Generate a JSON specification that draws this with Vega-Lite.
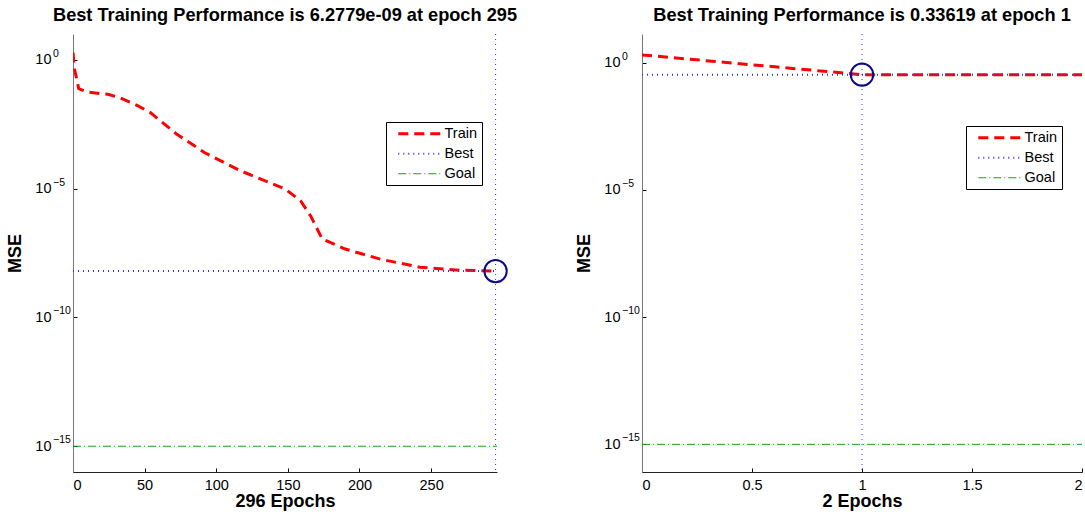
{
  "$schema": "https://vega.github.io/schema/vega-lite/v6.json",
  "background": "white",
  "padding": {"left": 6, "top": 6, "right": 0, "bottom": 0},
  "autosize": {"type": "pad"},
  "spacing": 145,
  "bounds": "flush",
  "config": {
    "font": "Liberation Sans",
    "view": {"stroke": null},
    "title": {"fontSize": 18.2, "fontWeight": "bold", "font": "Liberation Sans", "color": "black", "frame": "group", "anchor": "middle", "offset": 8},
    "axis": {
      "grid": false,
      "labelFont": "Liberation Sans",
      "labelFontSize": 14.5,
      "labelColor": "black",
      "titleFont": "Liberation Sans",
      "titleFontSize": 18,
      "titleFontWeight": "bold",
      "titleColor": "black",
      "tickColor": "black",
      "tickSize": -4,
      "labelPadding": 10
    },
    "axisX": {"domainColor": "#222", "titlePadding": 1, "labelAngle": 0},
    "axisY": {"domainColor": "#777", "titlePadding": 10, "labelPadding": 26},
    "text": {"font": "Liberation Sans"},
    "legend": {
      "orient": "none",
      "strokeColor": "black",
      "fillColor": "white",
      "padding": 4.5,
      "symbolType": "M-3.45,0H4.55",
      "symbolSize": 121,
      "symbolOffset": 19.5,
      "labelFont": "Liberation Sans",
      "labelFontSize": 14.5,
      "labelColor": "black",
      "labelOffset": 20,
      "rowPadding": 5
    }
  },
  "datasets": {
    "left": [
      {"series": "Train", "epoch": 0, "mse": 1.9},
      {"series": "Train", "epoch": 1, "mse": 0.45},
      {"series": "Train", "epoch": 4, "mse": 0.075},
      {"series": "Train", "epoch": 10, "mse": 0.056},
      {"series": "Train", "epoch": 19, "mse": 0.049},
      {"series": "Train", "epoch": 25, "mse": 0.045},
      {"series": "Train", "epoch": 33, "mse": 0.033},
      {"series": "Train", "epoch": 45, "mse": 0.0166},
      {"series": "Train", "epoch": 54, "mse": 0.0089},
      {"series": "Train", "epoch": 72, "mse": 0.00135},
      {"series": "Train", "epoch": 92, "mse": 0.000245},
      {"series": "Train", "epoch": 117, "mse": 0.000049},
      {"series": "Train", "epoch": 148, "mse": 0.0000098},
      {"series": "Train", "epoch": 159, "mse": 0.0000033},
      {"series": "Train", "epoch": 166, "mse": 0.00000085},
      {"series": "Train", "epoch": 174, "mse": 0.00000011},
      {"series": "Train", "epoch": 190, "mse": 0.000000045},
      {"series": "Train", "epoch": 215, "mse": 0.000000018},
      {"series": "Train", "epoch": 242, "mse": 0.0000000089},
      {"series": "Train", "epoch": 270, "mse": 0.0000000068},
      {"series": "Train", "epoch": 295, "mse": 0.0000000062779},
      {"series": "Best", "epoch": 0, "mse": 0.0000000062779},
      {"series": "Best", "epoch": 296, "mse": 0.0000000062779},
      {"series": "Goal", "epoch": 0, "mse": 1e-15},
      {"series": "Goal", "epoch": 296, "mse": 1e-15}
    ],
    "leftBest": [{"epoch": 295, "mse": 0.0000000062779}],
    "right": [
      {"series": "Train", "epoch": 0, "mse": 2.0},
      {"series": "Train", "epoch": 1, "mse": 0.33619},
      {"series": "Train", "epoch": 2, "mse": 0.33619},
      {"series": "Best", "epoch": 0, "mse": 0.33619},
      {"series": "Best", "epoch": 2, "mse": 0.33619},
      {"series": "Goal", "epoch": 0, "mse": 1e-15},
      {"series": "Goal", "epoch": 2, "mse": 1e-15}
    ],
    "rightBest": [{"epoch": 1, "mse": 0.33619}],
    "exps": [
      {"mse": 1, "exp": "0"},
      {"mse": 1e-5, "exp": "−5"},
      {"mse": 1e-10, "exp": "−10"},
      {"mse": 1e-15, "exp": "−15"}
    ]
  },
  "hconcat": [
    {
      "width": 424,
      "height": 438,
      "title": {"text": "Best Training Performance is 6.2779e-09 at epoch 295"},
      "layer": [
        {
          "data": {"name": "left"},
          "mark": {"type": "line", "clip": true},
          "encoding": {
            "x": {"field": "epoch", "type": "quantitative", "scale": {"domain": [0, 296], "nice": false, "zero": false}, "axis": {"title": "296 Epochs", "values": [0, 50, 100, 150, 200, 250]}},
            "y": {"field": "mse", "type": "quantitative", "scale": {"type": "log", "domain": [1e-16, 10], "nice": false}, "axis": {"title": "MSE", "values": [1e-15, 1e-10, 1e-5, 1], "labelExpr": "'10'"}},
            "color": {"field": "series", "type": "nominal", "scale": {"domain": ["Train", "Best", "Goal"], "range": ["#ff0000", "#3333ff", "#11a611"]}, "legend": {"title": null, "legendX": 313, "legendY": 88}},
            "strokeDash": {"field": "series", "type": "nominal", "scale": {"domain": ["Train", "Best", "Goal"], "range": [[10, 6], [1, 4], [8, 3, 1, 3]]}, "legend": {"title": null, "legendX": 313, "legendY": 88}},
            "strokeWidth": {"field": "series", "type": "nominal", "scale": {"domain": ["Train", "Best", "Goal"], "range": [3, 1, 1.2]}, "legend": {"title": null, "legendX": 313, "legendY": 88}}
          }
        },
        {
          "data": {"name": "exps"},
          "mark": {"type": "text", "align": "left", "baseline": "middle", "dx": -20, "dy": -6, "fontSize": 10.5, "color": "black", "clip": false},
          "encoding": {"x": {"datum": 0, "type": "quantitative"}, "y": {"field": "mse", "type": "quantitative"}, "text": {"field": "exp"}}
        },
        {
          "data": {"name": "leftBest"},
          "mark": {"type": "rule", "color": "#3333ff", "strokeDash": [1, 4], "strokeWidth": 1},
          "encoding": {"x": {"field": "epoch", "type": "quantitative"}}
        },
        {
          "data": {"name": "leftBest"},
          "mark": {"type": "point", "shape": "circle", "filled": false, "size": 500, "color": "#0a0a8a", "strokeWidth": 2, "opacity": 1},
          "encoding": {"x": {"field": "epoch", "type": "quantitative"}, "y": {"field": "mse", "type": "quantitative"}}
        }
      ]
    },
    {
      "width": 440,
      "height": 438,
      "title": {"text": "Best Training Performance is 0.33619 at epoch 1"},
      "layer": [
        {
          "data": {"name": "right"},
          "mark": {"type": "line", "clip": true},
          "encoding": {
            "x": {"field": "epoch", "type": "quantitative", "scale": {"domain": [0, 2], "nice": false, "zero": false}, "axis": {"title": "2 Epochs", "values": [0, 0.5, 1, 1.5, 2], "format": "~g"}},
            "y": {"field": "mse", "type": "quantitative", "scale": {"type": "log", "domain": [8.2e-17, 13.3], "nice": false}, "axis": {"title": "MSE", "values": [1e-15, 1e-10, 1e-5, 1], "labelExpr": "'10'"}},
            "color": {"field": "series", "type": "nominal", "scale": {"domain": ["Train", "Best", "Goal"], "range": ["#ff0000", "#3333ff", "#11a611"]}, "legend": {"title": null, "legendX": 324, "legendY": 92}},
            "strokeDash": {"field": "series", "type": "nominal", "scale": {"domain": ["Train", "Best", "Goal"], "range": [[10, 6], [1, 4], [8, 3, 1, 3]]}, "legend": {"title": null, "legendX": 324, "legendY": 92}},
            "strokeWidth": {"field": "series", "type": "nominal", "scale": {"domain": ["Train", "Best", "Goal"], "range": [3, 1, 1.2]}, "legend": {"title": null, "legendX": 324, "legendY": 92}}
          }
        },
        {
          "data": {"name": "exps"},
          "mark": {"type": "text", "align": "left", "baseline": "middle", "dx": -20, "dy": -6, "fontSize": 10.5, "color": "black", "clip": false},
          "encoding": {"x": {"datum": 0, "type": "quantitative"}, "y": {"field": "mse", "type": "quantitative"}, "text": {"field": "exp"}}
        },
        {
          "data": {"name": "rightBest"},
          "mark": {"type": "rule", "color": "#3333ff", "strokeDash": [1, 4], "strokeWidth": 1},
          "encoding": {"x": {"field": "epoch", "type": "quantitative"}}
        },
        {
          "data": {"name": "rightBest"},
          "mark": {"type": "point", "shape": "circle", "filled": false, "size": 500, "color": "#0a0a8a", "strokeWidth": 2, "opacity": 1},
          "encoding": {"x": {"field": "epoch", "type": "quantitative"}, "y": {"field": "mse", "type": "quantitative"}}
        }
      ]
    }
  ],
  "resolve": {"scale": {"x": "independent", "y": "independent", "color": "independent", "strokeDash": "independent", "strokeWidth": "independent"}, "legend": {"color": "independent", "strokeDash": "independent", "strokeWidth": "independent"}}
}
